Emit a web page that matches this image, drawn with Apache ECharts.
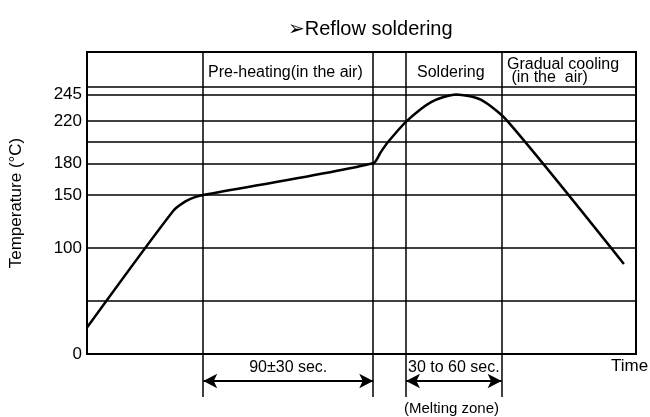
<!DOCTYPE html>
<html>
<head>
<meta charset="utf-8">
<script src="https://cdn.jsdelivr.net/npm/echarts@6/dist/echarts.min.js"></script>
<style>
  html, body { margin: 0; padding: 0; background: #fff; }
  #chart { width: 650px; height: 417px; }
</style>
</head>
<body>
<div id="chart"></div>
<script>
// reflow profile, time in sec / temperature in degC
var timeSec = [0, 45.5, 52, 57, 61.4, 151.2, 155, 159, 169, 182, 195, 208, 222, 283.6];
var temps   = [25, 135, 144, 148, 150, 180, 190, 200, 220, 238, 245, 240, 220, 85];

var tempLabels = [0, 100, 150, 180, 220, 245];
var tempLines = [50, 100, 150, 180, 200, 220, 245, 252];
var zoneEdges = [61.4, 151.2, 168.5, 219];   // pre-heat start/end, soldering start/end
var timeMax = 290;
var tempMax = 285;

var FONT = 'Liberation Sans, Arial, DejaVu Sans, sans-serif';

var chart = echarts.init(document.getElementById('chart'));

var profile = [];
for (var i = 0; i < timeSec.length; i++) {
    profile.push([timeSec[i], temps[i]]);
}

var hLines = tempLines.map(function (t) { return { yAxis: t }; });
var vLines = zoneEdges.map(function (x) { return { xAxis: x }; });
// zone edges carried on below the plot
var vLinesBelow = zoneEdges.map(function (x) { return [{ coord: [x, 0] }, { coord: [x, 43] }]; });

var option = {
    backgroundColor: '#fff',
    animation: false,
    title: {
        text: '\u27A2Reflow soldering',
        left: 283,
        top: 14,
        textStyle: { fontFamily: FONT, fontSize: 20, fontWeight: 'normal', color: '#000' }
    },
    grid: [
        { left: 87, right: 14, top: 52, bottom: 63, show: true, borderColor: '#000', borderWidth: 2, backgroundColor: 'transparent' },
        { left: 87, right: 14, top: 354, height: 63, show: false }
    ],
    xAxis: [
        {
            gridIndex: 0, type: 'value', min: 0, max: timeMax,
            axisLine: { show: false }, axisTick: { show: false },
            axisLabel: { show: false }, splitLine: { show: false }
        },
        {
            gridIndex: 1, type: 'value', min: 0, max: timeMax, show: false
        }
    ],
    yAxis: [
        {
            gridIndex: 0, type: 'value', min: 0, max: tempMax,
            name: 'Temperature (\u00B0C)',
            nameLocation: 'middle',
            nameGap: 62,
            nameTextStyle: { fontFamily: FONT, fontSize: 17, color: '#000' },
            axisLine: { show: false }, axisTick: { show: false },
            splitLine: { show: false },
            axisLabel: {
                customValues: tempLabels,
                fontFamily: FONT, fontSize: 17, color: '#000', margin: 5
            }
        },
        {
            gridIndex: 1, type: 'value', min: 0, max: 63, inverse: true, show: false
        }
    ],
    graphic: [
        { type: 'text', left: 208, top: 65, style: { text: 'Pre-heating(in the air)', font: '16px ' + FONT, fill: '#000' } },
        { type: 'text', left: 417, top: 65, style: { text: 'Soldering', font: '16px ' + FONT, fill: '#000' } },
        { type: 'text', left: 507, top: 57, style: { text: 'Gradual cooling\n (in the  air)', font: '16px ' + FONT, fill: '#000', lineHeight: 13, align: 'left' } },
        { type: 'text', left: 611, top: 358, style: { text: 'Time', font: '17px ' + FONT, fill: '#000' } },
        { type: 'text', left: 404, top: 401, style: { text: '(Melting zone)', font: '15px ' + FONT, fill: '#000' } }
    ],
    series: [
        {
            type: 'line',
            xAxisIndex: 0, yAxisIndex: 0,
            data: [],
            silent: true,
            markLine: {
                symbol: 'none',
                silent: true,
                label: { show: false },
                lineStyle: { color: '#000', width: 1.5, type: 'solid' },
                data: hLines.concat(vLines)
            }
        },
        {
            type: 'line',
            xAxisIndex: 1, yAxisIndex: 1,
            data: [],
            silent: true,
            markLine: {
                symbol: 'none',
                silent: true,
                label: { show: false },
                lineStyle: { color: '#000', width: 1.5, type: 'solid' },
                data: vLinesBelow
            }
        },
        {
            type: 'line',
            xAxisIndex: 1, yAxisIndex: 1,
            data: [],
            silent: true,
            markLine: {
                symbol: ['arrow', 'arrow'],
                symbolSize: [11, 14],
                silent: true,
                lineStyle: { color: '#000', width: 2, type: 'solid' },
                label: {
                    show: true, position: 'middle', distance: 5,
                    fontFamily: FONT, fontSize: 16, color: '#000',
                    formatter: function (p) { return p.name; }
                },
                data: [
                    [{ name: '90\u00B130 sec.', coord: [zoneEdges[0], 27] }, { coord: [zoneEdges[1], 27] }],
                    [{ name: '30 to 60 sec.', coord: [zoneEdges[2], 27] }, { coord: [zoneEdges[3], 27] }]
                ]
            }
        },
        {
            type: 'line',
            xAxisIndex: 0, yAxisIndex: 0,
            data: profile,
            smooth: 0.25,
            showSymbol: false,
            lineStyle: { color: '#000', width: 2.5 },
            z: 5
        }
    ]
};

chart.setOption(option);
</script>
</body>
</html>
